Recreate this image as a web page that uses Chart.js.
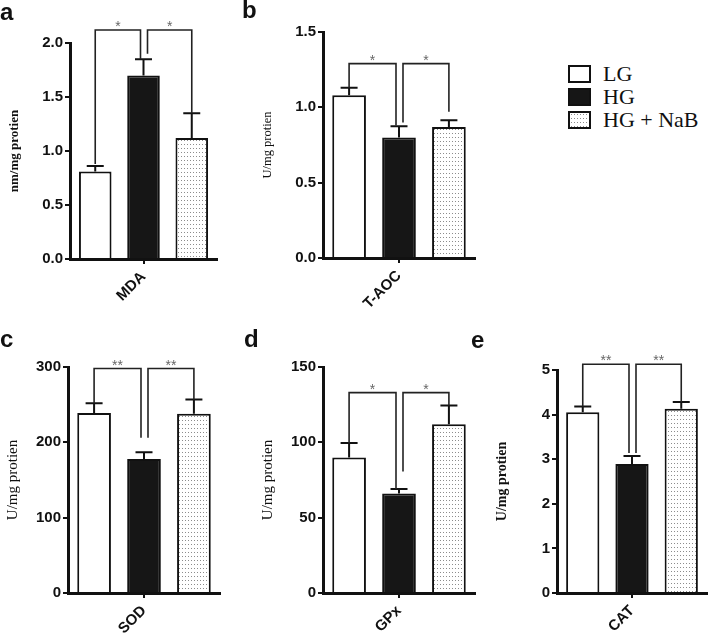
<!DOCTYPE html>
<html>
<head>
<meta charset="utf-8">
<script src="https://cdn.jsdelivr.net/npm/chart.js@4.4.0/dist/chart.umd.min.js"></script>
<style>
  body { margin: 0; background: #fff; }
  #wrap { position: relative; width: 709px; height: 635px; overflow: hidden; }
  #wrap canvas { position: absolute; }
  .tag { position: absolute; font: bold 24px "Liberation Sans", Arial, sans-serif; line-height: 24px; color: #111; }
  .key { position: absolute; left: 568px; height: 20px; font: 22px "Liberation Serif", "Times New Roman", serif; line-height: 20px; color: #111; white-space: nowrap; }
  .key span { display: inline-block; width: 23px; height: 18px; box-sizing: border-box; border: 2px solid #111; vertical-align: top; margin: 1px 12px 0 0; }
</style>
</head>
<body>
<div id="wrap"></div>
<script>
// groups and measured markers
const groups = ['LG', 'HG', 'HG + NaB'];
const markers = ['MDA', 'T-AOC', 'SOD', 'GPx', 'CAT'];
const panelTags = ['a', 'b', 'c', 'd', 'e'];
const unitLabels = ['nm/mg protien', 'U/mg protien', 'U/mg protien', 'U/mg protien', 'U/mg protien'];

// mean and error (upper bar only) for LG, HG, HG + NaB
const mdaMean = [0.81, 1.70, 1.12];
const mdaSem = [0.05, 0.15, 0.23];
const taocMean = [1.08, 0.80, 0.87];
const taocSem = [0.05, 0.075, 0.045];
const sodMean = [239, 178, 238];
const sodSem = [13, 9, 19];
const gpxMean = [90, 66, 112];
const gpxSem = [9.5, 3, 12.5];
const catMean = [4.05, 2.89, 4.13];
const catSem = [0.13, 0.18, 0.15];

// y axis ticks
const yMax = [2.0, 1.5, 300, 150, 5];
const yStep = [0.5, 0.5, 100, 50, 1];
const yDecimals = [1, 1, 0, 0, 0];

// significance brackets: [from group, to group, bracket height, left leg end, right leg end, label]
const mdaSig = [[0, 1, 2.12, 0.88, 1.85, '*'], [1, 2, 2.12, 1.90, 1.35, '*']];
const taocSig = [[0, 1, 1.29, 1.13, 0.88, '*'], [1, 2, 1.29, 0.90, 0.97, '*']];
const sodSig = [[0, 1, 298, 252, 206, '**'], [1, 2, 298, 206, 257, '**']];
const gpxSig = [[0, 1, 133, 99.5, 69, '*'], [1, 2, 133, 80.6, 124.5, '*']];
const catSig = [[0, 1, 5.13, 4.18, 3.14, '**'], [1, 2, 5.13, 3.14, 4.28, '**']];

const means = [mdaMean, taocMean, sodMean, gpxMean, catMean];
const sems = [mdaSem, taocSem, sodSem, gpxSem, catSem];
const sigs = [mdaSig, taocSig, sodSig, gpxSig, catSig];

// where each panel sits on the page
const frames = [
  { axisX: 70, top: 43, bottom: 259, right: 217, titleSize: 13, titleBold: true, tagX: 0, tagY: 0 },
  { axisX: 323, top: 32, bottom: 258, right: 475, titleSize: 12.5, titleBold: false, tagX: 242, tagY: -2 },
  { axisX: 68, top: 367, bottom: 593, right: 220, titleSize: 15, titleBold: false, tagX: 0, tagY: 327 },
  { axisX: 323, top: 367, bottom: 593, right: 475, titleSize: 15, titleBold: false, tagX: 244, tagY: 327 },
  { axisX: 557, top: 370, bottom: 593, right: 707, titleSize: 14, titleBold: true, tagX: 471, tagY: 328 }
];

const sans = "'Liberation Sans', Arial, sans-serif";
const serif = "'Liberation Serif', 'Times New Roman', serif";
const ink = '#111';

// dotted fill for HG + NaB
function makeDots() {
  const c = document.createElement('canvas');
  c.width = 3; c.height = 4;
  const g = c.getContext('2d');
  g.fillStyle = '#fff';
  g.fillRect(0, 0, 3, 4);
  g.fillStyle = '#8c8c8c';
  g.fillRect(1, 1, 1, 1);
  return c;
}
const dotTile = makeDots();
const dotPattern = dotTile.getContext('2d').createPattern(dotTile, 'repeat');
const fills = ['#ffffff', '#161616', dotPattern];

// error bars + significance brackets
function makeExtras(mean, sem, sig) {
  return {
    id: 'extras',
    afterDatasetsDraw(chart) {
      const ctx = chart.ctx, y = chart.scales.y;
      ctx.save();
      ctx.strokeStyle = ink;
      ctx.lineWidth = 2;
      sem.forEach((s, i) => {
        const bar = chart.getDatasetMeta(i).data[0];
        const top = y.getPixelForValue(mean[i] + s);
        ctx.beginPath();
        ctx.moveTo(bar.x, bar.y);
        ctx.lineTo(bar.x, top);
        ctx.moveTo(bar.x - 8.5, top);
        ctx.lineTo(bar.x + 8.5, top);
        ctx.stroke();
      });
      ctx.lineWidth = 1.6;
      ctx.strokeStyle = '#222';
      ctx.fillStyle = '#666';
      ctx.font = '14px ' + sans;
      ctx.textAlign = 'center';
      ctx.textBaseline = 'alphabetic';
      sig.forEach(([a, b, h, l, r, txt]) => {
        let xa = chart.getDatasetMeta(a).data[0].x;
        let xb = chart.getDatasetMeta(b).data[0].x;
        if (a === 1) xa += 4;
        if (b === 1) xb -= 3;
        const yt = y.getPixelForValue(h);
        ctx.beginPath();
        ctx.moveTo(xa, y.getPixelForValue(l));
        ctx.lineTo(xa, yt);
        ctx.lineTo(xb, yt);
        ctx.lineTo(xb, y.getPixelForValue(r));
        ctx.stroke();
        ctx.fillText(txt, (xa + xb) / 2, yt + 1);
      });
      ctx.restore();
    }
  };
}

const wrap = document.getElementById('wrap');

function drawPanel(k) {
  const f = frames[k];
  const left = f.axisX - 70;
  const top = Math.max(0, f.top - 40);
  const canvas = document.createElement('canvas');
  canvas.width = f.right - left + 6;
  canvas.height = f.bottom + 52 - top;
  canvas.style.left = left + 'px';
  canvas.style.top = top + 'px';
  wrap.appendChild(canvas);

  const titlePad = 15 - f.titleSize * 1.2 / 2;

  new Chart(canvas.getContext('2d'), {
    type: 'bar',
    data: {
      labels: [markers[k]],
      datasets: groups.map((g, i) => ({
        label: g,
        data: [means[k][i]],
        backgroundColor: fills[i],
        borderColor: ink,
        borderWidth: 2,
        categoryPercentage: 0.985,
        barPercentage: 0.675
      }))
    },
    options: {
      responsive: false,
      animation: false,
      devicePixelRatio: 1,
      layout: { padding: { left: 0, right: 6, top: f.top - top, bottom: 0 } },
      plugins: { legend: { display: false }, tooltip: { enabled: false } },
      scales: {
        x: {
          offset: true,
          afterFit: s => { s.height = 52; },
          grid: { drawOnChartArea: false, drawTicks: true, tickLength: 5, offset: false, color: ink, lineWidth: 2 },
          border: { display: true, color: ink, width: 3 },
          ticks: { minRotation: 45, maxRotation: 45, padding: 4, color: ink, font: { family: sans, size: 15, weight: 'bold' } }
        },
        y: {
          min: 0,
          max: yMax[k],
          afterFit: s => { s.width = 70; },
          grid: { drawOnChartArea: false, drawTicks: true, tickLength: 5, color: ink, lineWidth: 2 },
          border: { display: true, color: ink, width: 3 },
          ticks: {
            stepSize: yStep[k],
            padding: 2,
            color: ink,
            font: { family: sans, size: 15, weight: 'bold' },
            callback: v => Number(v).toFixed(yDecimals[k])
          },
          title: {
            display: true,
            text: unitLabels[k],
            color: ink,
            padding: { top: titlePad, bottom: 0 },
            font: { family: serif, size: f.titleSize, weight: f.titleBold ? 'bold' : 'normal' }
          }
        }
      }
    },
    plugins: [makeExtras(means[k], sems[k], sigs[k])]
  });

  const tag = document.createElement('div');
  tag.className = 'tag';
  tag.textContent = panelTags[k];
  tag.style.left = f.tagX + 'px';
  tag.style.top = f.tagY + 'px';
  wrap.appendChild(tag);
}

for (let k = 0; k < markers.length; k++) drawPanel(k);

// legend
const dotUrl = dotTile.toDataURL();
groups.forEach((g, i) => {
  const row = document.createElement('div');
  row.className = 'key';
  row.style.top = (64 + i * 23) + 'px';
  const box = document.createElement('span');
  if (i === 2) box.style.background = 'url(' + dotUrl + ')';
  else box.style.background = fills[i];
  row.appendChild(box);
  row.appendChild(document.createTextNode(g));
  wrap.appendChild(row);
});
</script>
</body>
</html>
